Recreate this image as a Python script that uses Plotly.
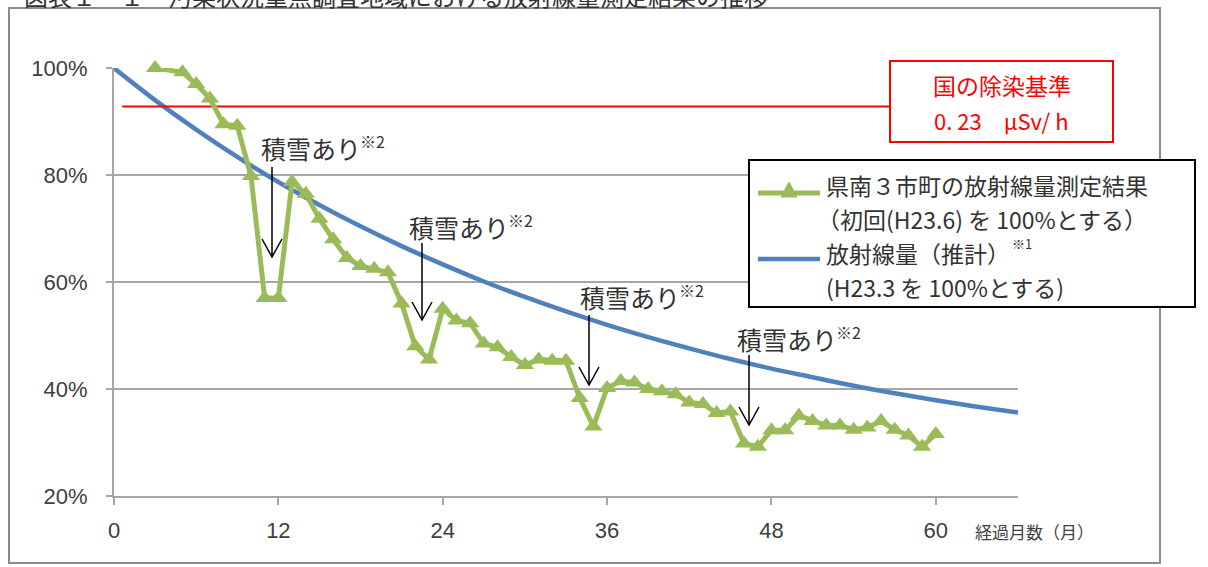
import plotly.graph_objects as go

# ---------------- data ----------------
months_measured = [3, 5, 6, 7, 8, 9, 10, 11, 12, 13, 14, 15, 16, 17, 18, 19, 20,
                   21, 22, 23, 24, 25, 26, 27, 28, 29, 30, 31, 32, 33, 34, 35, 36,
                   37, 38, 39, 40, 41, 42, 43, 44, 45, 46, 47, 48, 49, 50, 51, 52,
                   53, 54, 55, 56, 57, 58, 59, 60]
measured_pct = [100, 99.2, 97.0, 94.3, 89.5, 89.2, 79.8, 57.0, 57.0, 78.7, 76.5,
                71.8, 68.0, 64.5, 63.0, 62.5, 61.8, 56.0, 48.0, 45.5, 55.0, 52.8,
                52.3, 48.5, 47.8, 46.0, 44.5, 45.5, 45.3, 45.3, 38.3, 33.0, 40.2,
                41.5, 41.2, 40.0, 39.6, 39.0, 37.5, 37.2, 35.5, 35.8, 29.8, 29.2,
                32.3, 32.3, 35.0, 34.0, 33.2, 33.2, 32.4, 32.8, 34.0, 32.4, 31.3,
                29.2, 31.6]

months_est = [0, 3, 6, 9, 12, 15, 18, 21, 24, 27, 30, 33, 36, 39, 42, 45, 48,
              51, 54, 57, 60, 63, 66]
est_pct = [100, 94.0, 88.5, 83.4, 78.7, 74.4, 70.4, 66.7, 63.3, 60.1, 57.2, 54.5,
           52.0, 49.7, 47.6, 45.6, 43.8, 42.2, 40.6, 39.2, 37.9, 36.7, 35.6]

standard_pct = 92.8          # 国の除染基準 0.23μSv/h
standard_months = [0.6, 56.65]

x_ticks = [0, 12, 24, 36, 48, 60]
x_tick_labels = ["0", "12", "24", "36", "48", "60"]
y_ticks = [20, 40, 60, 80, 100]
y_tick_labels = ["20%", "40%", "60%", "80%", "100%"]

name_measured = "県南３市町の放射線量測定結果"
name_measured2 = "（初回(H23.6) を 100%とする）"
name_est = "放射線量（推計）"
name_est2 = "(H23.3 を 100%とする)"
snow_label = "積雪あり"
x_title = "経過月数（月）"
title_text = "図表１－１　汚染状況重点調査地域における放射線量測定結果の推移"

# ---------------- styles ----------------
GREEN = "#9BBB59"
BLUE = "#4F81BD"
RED = "#FF0000"
GRID = "#A6A6A6"
TXT = "#333333"
CJK = "Noto Sans CJK JP"
NUM = "Liberation Sans"

L, R, T, B = 114, 1018, 68, 496
W, H = R - L, B - T


def PX(x):
    return (x - L) / W


def PY(y):
    return (B - y) / H


fig = go.Figure()

fig.add_trace(go.Scatter(
    x=months_est, y=est_pct, mode="lines", line=dict(color=BLUE, width=4.5, shape="spline"),
    hoverinfo="skip", showlegend=False, cliponaxis=False))

fig.add_trace(go.Scatter(
    x=standard_months, y=[standard_pct] * len(standard_months), mode="lines",
    line=dict(color=RED, width=2), hoverinfo="skip", showlegend=False, cliponaxis=False))

fig.add_trace(go.Scatter(
    x=months_measured, y=measured_pct, mode="lines+markers",
    line=dict(color=GREEN, width=5),
    marker=dict(symbol="triangle-up", size=16, color=GREEN, line=dict(width=0)),
    showlegend=False, cliponaxis=False))

shapes = []
annotations = []

# outer frame
shapes.append(dict(type="rect", xref="paper", yref="paper", x0=PX(9), x1=PX(1160),
                   y0=PY(563), y1=PY(8), line=dict(color="#8C8C8C", width=2), layer="below"))

# red standard box
shapes.append(dict(type="rect", xref="paper", yref="paper", x0=PX(890), x1=PX(1113),
                   y0=PY(142), y1=PY(61), line=dict(color=RED, width=2),
                   fillcolor="white", layer="above"))
annotations.append(dict(xref="paper", yref="paper", x=PX(1002), y=PY(85),
                        text="国の除染基準", showarrow=False,
                        font=dict(family=CJK, size=23, color=RED), xanchor="center", yanchor="middle"))
annotations.append(dict(xref="paper", yref="paper", x=PX(1001), y=PY(120),
                        text="0. 23　μSv/ h", showarrow=False,
                        font=dict(family=CJK, size=22, color=RED), xanchor="center", yanchor="middle"))

# legend box
shapes.append(dict(type="rect", xref="paper", yref="paper", x0=PX(749), x1=PX(1195),
                   y0=PY(307), y1=PY(160), line=dict(color="#000000", width=2),
                   fillcolor="white", layer="above"))
shapes.append(dict(type="line", xref="paper", yref="paper", x0=PX(758), x1=PX(820),
                   y0=PY(193), y1=PY(193), line=dict(color=GREEN, width=5), layer="above"))
shapes.append(dict(type="path", xref="paper", yref="paper",
                   path=f"M {PX(789)},{PY(182)} L {PX(797)},{PY(197)} L {PX(781)},{PY(197)} Z",
                   fillcolor=GREEN, line=dict(color=GREEN, width=1), layer="above"))
shapes.append(dict(type="line", xref="paper", yref="paper", x0=PX(758), x1=PX(820),
                   y0=PY(259), y1=PY(259), line=dict(color=BLUE, width=4.5), layer="above"))
for txt, xx, yy in [(name_measured, 824, 185), (name_measured2, 815, 219),
                    (name_est, 824, 253), (name_est2, 824, 287)]:
    annotations.append(dict(xref="paper", yref="paper", x=PX(xx), y=PY(yy), text=txt,
                            showarrow=False, xanchor="left", yanchor="middle",
                            font=dict(family=CJK, size=23, color=TXT)))
annotations.append(dict(xref="paper", yref="paper", x=PX(1010), y=PY(243), text="※1",
                        showarrow=False, xanchor="left", yanchor="middle",
                        font=dict(family=CJK, size=13, color=TXT)))

# snow annotations with arrows
snow = [  # text left, text y, sup left, sup y, arrow x, tail y, tip y  (pixels)
    (259, 148, 358, 141, 272, 167, 257),
    (407, 227, 506, 220, 422, 243, 320),
    (578, 297, 677, 290, 589, 315, 385),
    (735, 339, 834, 332, 749, 355, 425),
]
for tl, ty, sl, sy, ax, y0, y1 in snow:
    annotations.append(dict(xref="paper", yref="paper", x=PX(tl), y=PY(ty), text=snow_label,
                            showarrow=False, xanchor="left", yanchor="middle",
                            font=dict(family=CJK, size=25, color=TXT)))
    annotations.append(dict(xref="paper", yref="paper", x=PX(sl), y=PY(sy), text="※2",
                            showarrow=False, xanchor="left", yanchor="middle",
                            font=dict(family=CJK, size=16, color=TXT)))
    shapes.append(dict(type="line", xref="paper", yref="paper", x0=PX(ax), x1=PX(ax),
                       y0=PY(y0), y1=PY(y1), line=dict(color="#000000", width=1.5), layer="above"))
    shapes.append(dict(type="path", xref="paper", yref="paper",
                       path=f"M {PX(ax - 10)},{PY(y1 - 18)} L {PX(ax)},{PY(y1)} L {PX(ax + 10)},{PY(y1 - 18)}",
                       line=dict(color="#000000", width=1.5), layer="above"))

# axis title and figure title (cut off at the top edge, as in the source image)
annotations.append(dict(xref="paper", yref="paper", x=PX(1034), y=PY(531), text=x_title,
                        showarrow=False, xanchor="center", yanchor="middle",
                        font=dict(family=CJK, size=17, color="#404040")))
annotations.append(dict(xref="paper", yref="paper", x=PX(22), y=PY(-5), text=title_text,
                        showarrow=False, xanchor="left", yanchor="middle",
                        font=dict(family=CJK, size=24, color="#333333")))

fig.update_layout(
    width=1208, height=567,
    margin=dict(l=L, r=1208 - R, t=T, b=567 - B),
    paper_bgcolor="white", plot_bgcolor="white",
    shapes=shapes, annotations=annotations,
    xaxis=dict(range=[0, 66], tickvals=x_ticks, ticktext=x_tick_labels, showgrid=False,
               zeroline=False, showline=True, linecolor=GRID, linewidth=2,
               ticks="outside", ticklen=7, tickcolor=GRID, tickwidth=2,
               ticklabelstandoff=7,
               tickfont=dict(family=NUM, size=22, color="#404040")),
    yaxis=dict(range=[20, 100], tickvals=y_ticks, ticktext=y_tick_labels, showgrid=True,
               gridcolor=GRID, gridwidth=2, zeroline=False, showline=True, linecolor=GRID,
               linewidth=2, ticks="outside", ticklen=6, tickcolor=GRID, tickwidth=2,
               ticklabelstandoff=14,
               tickfont=dict(family=NUM, size=22, color="#404040")),
    font=dict(family=CJK),
)

fig.write_html("out.html", config={"displayModeBar": False},
               post_script="document.body.style.margin='0';document.body.style.overflow='hidden';")
